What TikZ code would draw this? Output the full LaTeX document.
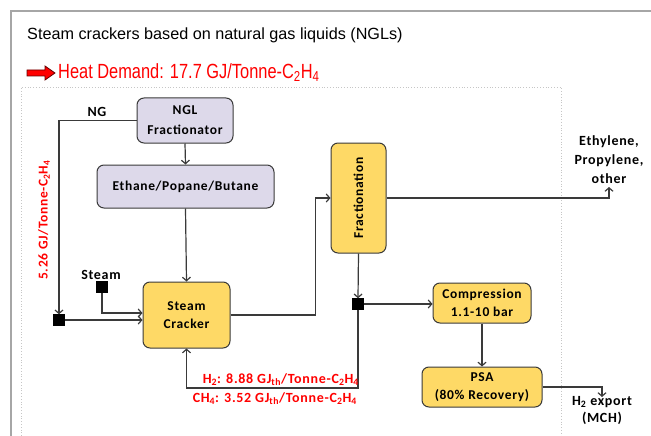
\documentclass[tikz,border=0pt]{standalone}
\usepackage{fontspec}
\setmainfont{Carlito}[LetterSpace=5]
\newfontfamily\titlefont{Liberation Sans}
\newfontfamily\narrowfont[FakeStretch=0.8]{Liberation Sans}
\usetikzlibrary{arrows.meta,positioning,calc}
\definecolor{lavfill}{HTML}{DDD9EA}
\definecolor{yelfill}{HTML}{FED966}
\definecolor{darkline}{HTML}{3A3A3A}
\definecolor{heatred}{HTML}{FF0000}

\begin{document}
\begin{tikzpicture}[x=1pt, y=-1pt,
    flow/.style={draw=darkline, line width=1.2pt, -{Straight Barb[length=3.5pt,width=8pt]}},
    lavbox/.style={draw=darkline, fill=lavfill, line width=1pt, rounded corners=7pt,
        align=center, inner sep=0pt, font=\fontsize{13.5}{20}\selectfont\bfseries},
    yelbox/.style={draw=darkline, fill=yelfill, line width=1pt, rounded corners=7pt,
        align=center, inner sep=0pt, font=\fontsize{13.5}{18.5}\selectfont\bfseries},
    junction/.style={fill=black, draw=black, minimum size=11pt, inner sep=0pt},
    lbl/.style={align=center, inner sep=0pt, font=\fontsize{14}{16}\selectfont\bfseries},
    redlbl/.style={text=heatred, inner sep=0pt, font=\fontsize{14}{16}\selectfont\bfseries}]
    \useasboundingbox (0,0) rectangle (651,436);

    % --- frame and title ---
    \draw[gray!70, line width=2pt] (11,436) -- (11,11) -- (651,11);
    \draw[gray!45, dotted, line width=0.8pt] (21,436) -- (21,87) -- (561,87) -- (561,436);
    \node[anchor=west, inner sep=0pt, font=\titlefont\fontsize{16.2}{19}\selectfont] (title) at (27,35)
        {Steam crackers based on natural gas liquids (NGLs)};
    \draw[fill=heatred, draw=red!40!black, line width=0.8pt]
        (27,70) -- (45,70) -- (45,66) -- (55,73) -- (45,80) -- (45,76) -- (27,76) -- cycle;
    \node[anchor=west, inner sep=0pt, text=heatred, font=\narrowfont\fontsize{20.5}{24}\selectfont] (heat) at (58,73)
        {Heat Demand: 17.7 GJ/Tonne-C\textsubscript{2}H\textsubscript{4}};

    % --- process units ---
    \node[lavbox, minimum width=96pt, minimum height=45pt] (ngl) at (185,120.5) {NGL\\Fractionator};
    \node[lavbox, minimum width=177pt, minimum height=43pt] (feed) at (185.5,186.5) {Ethane/Popane/Butane};
    \node[yelbox, minimum width=87pt, minimum height=66pt] (cracker) at (186.5,315) {Steam\\Cracker};
    \node[yelbox, minimum width=55pt, minimum height=110pt] (frac) at (358.5,198) {};
    \node[rotate=90, inner sep=0pt, font=\fontsize{13.5}{16}\selectfont\bfseries] (fraclbl) at (frac.center) {Fractionation};
    \node[yelbox, minimum width=98pt, minimum height=40pt] (comp) at (482,303) {Compression\\1.1-10 bar};
    \node[yelbox, minimum width=120pt, minimum height=40pt] (psa) at (482,387) {PSA\\(80\% Recovery)};

    % --- junctions ---
    \node[junction] (ngjoin) at (59,320) {};
    \node[junction] (steam) at (102,287) {};
    \node[junction] (split) at (358,304) {};
    \coordinate (prod) at (609,187);
    \coordinate (hexp) at (602,397);
    \coordinate (recyc) at (358,388);

    % --- streams ---
    \draw[flow] (ngl.west) -| (ngjoin.north);
    \draw[flow] (ngl.south) -- (feed.north);
    \draw[flow] (feed.south) -- (cracker.north);
    \draw[flow] (ngjoin.east) -- (ngjoin.east -| cracker.west);
    \draw[flow] (steam.south) |- ($(cracker.west)+(0,-2)$);
    \draw[flow] (cracker.east) -- ++(85,0) |- (frac.west);
    \draw[flow] (frac.east) -| (prod);
    \draw[flow] (frac.south) -- (split.north);
    \draw[flow] (split.east) -- (split.east -| comp.west);
    \draw[flow] (comp.south) -- (psa.north);
    \draw[flow] (psa.east) -| (hexp);
    \draw[flow] (split.south) -- (recyc) -| (cracker.south);

    % --- labels ---
    \node[lbl] (nglbl) at (97,112) {NG};
    \node[lbl, anchor=south] (steamlbl) at (101,280) {Steam};
    \node[lbl, anchor=south, font=\fontsize{14}{19}\selectfont\bfseries] (prodlbl) at (609,184) {Ethylene,\\Propylene,\\other};
    \node[lbl, anchor=north, font=\fontsize{14}{17}\selectfont\bfseries] (hexplbl) at (602,396) {H\textsubscript{2} export\\(MCH)};
    \node[redlbl, rotate=90, font=\fontsize{13.5}{16}\selectfont\bfseries] (fuellbl) at (44,220) {5.26 GJ/Tonne-C\textsubscript{2}H\textsubscript{4}};
    \node[redlbl, anchor=south east] (h2lbl) at (359,386)
        {H\textsubscript{2}: 8.88 GJ\textsubscript{th}/Tonne-C\textsubscript{2}H\textsubscript{4}};
    \node[redlbl, anchor=north east] (ch4lbl) at (357,392)
        {CH\textsubscript{4}: 3.52 GJ\textsubscript{th}/Tonne-C\textsubscript{2}H\textsubscript{4}};
\end{tikzpicture}
\end{document}
